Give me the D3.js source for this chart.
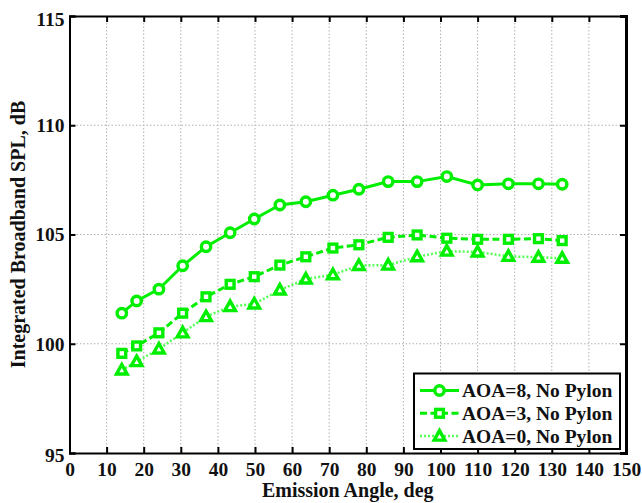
<!DOCTYPE html>
<html><head><meta charset="utf-8">
<script src="https://cdn.jsdelivr.net/npm/d3@7"></script>
<style>body{margin:0;background:#fff}svg{display:block}</style>
</head><body>
<svg id="c" width="642" height="503"></svg>
<script>
const angles = [14.1,18.1,24.1,30.5,36.8,43.3,49.8,56.7,63.7,71.0,78.0,85.9,93.7,101.7,110.0,118.3,126.4,132.8];
const aoa8 = [101.4,101.96,102.5,103.57,104.44,105.08,105.71,106.35,106.5,106.8,107.07,107.42,107.42,107.65,107.27,107.32,107.32,107.3];
const aoa3 = [99.56,99.9,100.5,101.4,102.15,102.72,103.07,103.6,103.98,104.38,104.53,104.87,104.98,104.83,104.78,104.78,104.81,104.72];
const aoa0 = [98.8,99.18,99.76,100.5,101.24,101.7,101.82,102.46,102.96,103.16,103.58,103.6,103.98,104.24,104.2,104.0,103.96,103.91];
const seriesNames = ["AOA=8, No Pylon","AOA=3, No Pylon","AOA=0, No Pylon"];
const xTicks = [0,10,20,30,40,50,60,70,80,90,100,110,120,130,140,150];
const yTicks = [95,100,105,110,115];

const svg = d3.select("#c");
const L=69.5, R=626, T=16, B=453;
const x = d3.scaleLinear().domain([0,150]).range([L,R]);
const y = d3.scaleLinear().domain([95,115]).range([B,T]);
const green = "#00ee00";
const font = "'Liberation Serif','Times New Roman',serif";
const tickFs = 19.5;

// grid
svg.append("g").selectAll("line").data(xTicks.slice(1,-1)).join("line")
  .attr("x1",d=>x(d)).attr("x2",d=>x(d)).attr("y1",T).attr("y2",B)
  .attr("stroke","#b0b0b0").attr("stroke-width",1).attr("stroke-dasharray","1.5,2");
svg.append("g").selectAll("line").data(yTicks.slice(1,-1)).join("line")
  .attr("y1",d=>y(d)).attr("y2",d=>y(d)).attr("x1",L).attr("x2",R)
  .attr("stroke","#b0b0b0").attr("stroke-width",1).attr("stroke-dasharray","1.5,2");

// axes
const xAxis = d3.axisBottom(x).tickValues(xTicks).tickSize(-6).tickPadding(9).tickFormat(d3.format("d"));
const gx = svg.append("g").attr("transform",`translate(0,${B})`).call(xAxis);
const xTop = d3.axisTop(x).tickValues(xTicks).tickSize(-6).tickFormat("");
svg.append("g").attr("transform",`translate(0,${T})`).call(xTop);
const yAxis = d3.axisLeft(y).tickValues(yTicks).tickSize(-6).tickPadding(5).tickFormat(d3.format("d"));
const gy = svg.append("g").attr("transform",`translate(${L},0)`).call(yAxis);
const yRight = d3.axisRight(y).tickValues(yTicks).tickSize(-6).tickFormat("");
const gr = svg.append("g").attr("transform",`translate(${R},0)`).call(yRight);
svg.selectAll(".domain").attr("stroke","#000").attr("stroke-width",2);
gr.select(".domain").attr("stroke-width",3);
svg.selectAll(".tick line").attr("stroke","#000").attr("stroke-width",2);
svg.selectAll(".tick text").attr("font-family",font).attr("font-weight","bold").attr("font-size",tickFs).attr("fill","#111");
gy.selectAll(".tick text").attr("dy","0.32em");
gy.selectAll(".tick").filter(d=>d===95).select("text").attr("y",2);
gy.selectAll(".tick").filter(d=>d===115).select("text").attr("y",3);

// axis labels
svg.append("text").attr("x",(L+R)/2).attr("y",497).attr("text-anchor","middle")
  .attr("font-family",font).attr("font-weight","bold").attr("font-size",20).attr("fill","#111")
  .text("Emission Angle, deg");
svg.append("text").attr("transform",`translate(25,${(T+B)/2}) rotate(-90)`).attr("text-anchor","middle")
  .attr("font-family",font).attr("font-weight","bold").attr("font-size",20).attr("fill","#111")
  .text("Integrated Broadband SPL, dB");

// series
const series = [
  {name:seriesNames[0], vals:aoa8, dash:null, w:3, marker:"circle", color:green},
  {name:seriesNames[1], vals:aoa3, dash:"7,3.5", w:3, marker:"square", color:green},
  {name:seriesNames[2], vals:aoa0, dash:"2,2", w:2.5, marker:"triangle", color:"#55ff55"}
];
const line = d3.line().x(d=>x(d[0])).y(d=>y(d[1]));
function drawMarker(g, type, cx, cy){
  if(type==="circle") g.append("circle").attr("cx",cx).attr("cy",cy).attr("r",4.7);
  else if(type==="square") g.append("rect").attr("x",cx-3.9).attr("y",cy-3.9).attr("width",7.8).attr("height",7.8);
  else g.append("path").attr("d",`M${cx},${cy-5.5}L${cx+5.3},${cy+4}L${cx-5.3},${cy+4}Z`);
}
series.forEach(s=>{
  const pts = angles.map((a,i)=>[a,s.vals[i]]);
  svg.append("path").datum(pts).attr("d",line).attr("fill","none")
    .attr("stroke",s.color).attr("stroke-width",s.w).attr("stroke-dasharray",s.dash);
  const mg = svg.append("g").attr("fill","#fff").attr("stroke",green).attr("stroke-width",3.4);
  pts.forEach(p=>drawMarker(mg,s.marker,x(p[0]),y(p[1])));
});

// legend
const lg = svg.append("g");
lg.append("rect").attr("x",414).attr("y",373.5).attr("width",206).attr("height",75.5)
  .attr("fill","#fff").attr("stroke","#000").attr("stroke-width",2);
series.forEach((s,i)=>{
  const yy = 390.5 + i*22.8;
  lg.append("line").attr("x1",420).attr("x2",459).attr("y1",yy).attr("y2",yy)
    .attr("stroke",s.color).attr("stroke-width",s.w).attr("stroke-dasharray",s.dash);
  const mg = lg.append("g").attr("fill","#fff").attr("stroke",green).attr("stroke-width",3.4);
  drawMarker(mg,s.marker,439.5,yy);
  lg.append("text").attr("x",462).attr("y",yy).attr("dy","0.35em")
    .attr("font-family",font).attr("font-weight","bold").attr("font-size",19.5).attr("fill","#111")
    .text(s.name);
});
</script>
</body></html>
